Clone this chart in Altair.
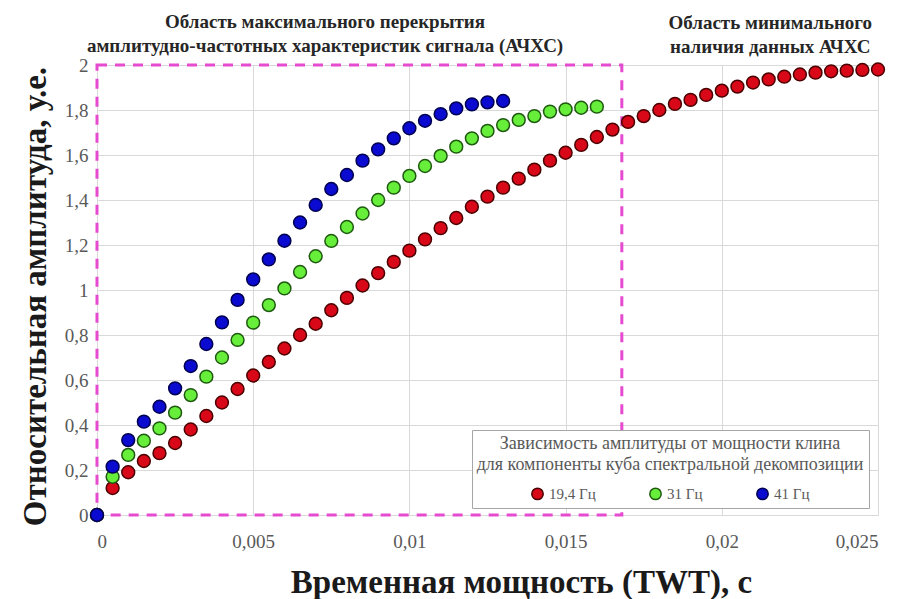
import altair as alt
import pandas as pd

# ---- data ----
twt = [0.0, 0.0005, 0.001, 0.0015, 0.002, 0.0025, 0.003, 0.0035, 0.004, 0.0045,
       0.005, 0.0055, 0.006, 0.0065, 0.007, 0.0075, 0.008, 0.0085, 0.009, 0.0095,
       0.01, 0.0105, 0.011, 0.0115, 0.012, 0.0125, 0.013, 0.0135, 0.014, 0.0145,
       0.015, 0.0155, 0.016, 0.0165, 0.017, 0.0175, 0.018, 0.0185, 0.019, 0.0195,
       0.02, 0.0205, 0.021, 0.0215, 0.022, 0.0225, 0.023, 0.0235, 0.024, 0.0245, 0.025]

amp_19 = [0, 0.12, 0.19, 0.24, 0.275, 0.32, 0.38, 0.44, 0.50, 0.56,
          0.62, 0.68, 0.74, 0.80, 0.85, 0.91, 0.965, 1.02, 1.075, 1.125,
          1.175, 1.225, 1.275, 1.32, 1.37, 1.415, 1.455, 1.495, 1.535, 1.575,
          1.61, 1.645, 1.68, 1.713, 1.747, 1.773, 1.80, 1.827, 1.845, 1.867,
          1.886, 1.904, 1.922, 1.936, 1.948, 1.958, 1.966, 1.972, 1.975, 1.978, 1.98]
amp_31 = [0, 0.17, 0.267, 0.33, 0.385, 0.455, 0.533, 0.615, 0.70, 0.778,
          0.855, 0.933, 1.007, 1.08, 1.15, 1.218, 1.28, 1.34, 1.40, 1.455,
          1.507, 1.551, 1.596, 1.637, 1.674, 1.707, 1.733, 1.756, 1.773, 1.793,
          1.803, 1.81, 1.815]
amp_41 = [0, 0.215, 0.333, 0.415, 0.481, 0.563, 0.662, 0.76, 0.856, 0.956,
          1.047, 1.136, 1.219, 1.30, 1.378, 1.449, 1.511, 1.575, 1.625, 1.674,
          1.719, 1.752, 1.782, 1.807, 1.825, 1.834, 1.84]

series_names = ["19,4 Гц", "31 Гц", "41 Гц"]
fill_colors = ["#d80818", "#66ee3a", "#0a0ad0"]
stroke_colors = ["#4a0000", "#1f5a10", "#000050"]

x_ticks = [0, 0.005, 0.01, 0.015, 0.02, 0.025]
y_ticks = [0, 0.2, 0.4, 0.6, 0.8, 1.0, 1.2, 1.4, 1.6, 1.8, 2.0]

# region of maximum overlap (dashed box)
region_x = [0.0, 0.0168]
region_y = [0.0, 2.0]

annot_text = ["Область максимального перекрытия",
              "амплитудно-частотных характеристик сигнала (АЧХС)",
              "Область минимального", "наличия данных АЧХС"]
annot_x = [0.0073, 0.0073, 0.02155, 0.02155]
annot_y = [2.19, 2.085, 2.185, 2.08]

legend_title = ["Зависимость амплитуды от мощности клина",
                "для компоненты куба спектральной декомпозиции"]

# ---- tables ----
rows = []
for name, vals in zip(series_names, [amp_19, amp_31, amp_41]):
    for t, a in zip(twt, vals):
        rows.append({"twt": t, "amp": a, "series": name})
df = pd.DataFrame(rows)
df["order"] = df["series"].map({n: i for i, n in enumerate(series_names)})

region_df = pd.DataFrame({"x": [region_x[0]], "x2": [region_x[1]],
                          "y": [region_y[0]], "y2": [region_y[1]]})
annot_df = pd.DataFrame({"x": annot_x, "y": annot_y, "text": annot_text})

FONT = "Liberation Serif"
comma = "replace(format(datum.value, ''), '.', ',')"

xscale = alt.Scale(domain=[0, 0.025], nice=False)
yscale = alt.Scale(domain=[0, 2], nice=False)

xaxis = alt.Axis(values=x_ticks, labelExpr=comma, title="Временная мощность (TWT), с",
                 grid=True, domain=False, ticks=False, labelPadding=17,
                 titleX=424, titleY=77, titleBaseline="alphabetic", titleAlign="center")
yaxis = alt.Axis(values=y_ticks, labelExpr=comma, title="Относительная амплитуда, у.е.",
                 grid=True, domain=False, ticks=False, labelPadding=9,
                 titleX=-62, titleY=231, titleBaseline="middle")

base_grid = alt.Chart(df).mark_point(opacity=0).encode(
    x=alt.X("twt:Q", scale=xscale, axis=xaxis),
    y=alt.Y("amp:Q", scale=yscale, axis=yaxis),
)

region = alt.Chart(region_df).mark_rect(
    filled=False, stroke="#e54bd0", strokeWidth=3, strokeDash=[10, 8]
).encode(
    x=alt.X("x:Q", scale=xscale), x2="x2:Q",
    y=alt.Y("y:Q", scale=yscale), y2="y2:Q",
)

points = alt.Chart(df).mark_circle(size=165, opacity=1, strokeWidth=1.5).encode(
    x=alt.X("twt:Q", scale=xscale),
    y=alt.Y("amp:Q", scale=yscale),
    fill=alt.Fill("series:N",
                  scale=alt.Scale(domain=series_names, range=fill_colors),
                  legend=alt.Legend(
                      title=legend_title, orient="none", legendX=375, legendY=365,
                      direction="horizontal", columns=3, columnPadding=50,
                      symbolType="circle", symbolSize=130, symbolStrokeWidth=1.5,
                      titleFont=FONT, titleFontSize=18, titleFontWeight="normal",
                      titleColor="#595959", titleAnchor="middle", titleLineHeight=21,
                      titlePadding=12, titleLimit=500,
                      labelFont=FONT, labelFontSize=15, labelColor="#595959",
                      labelOffset=4,
                      fillColor="white", strokeColor="#a6a6a6", padding=5,
                  )),
    stroke=alt.Stroke("series:N",
                      scale=alt.Scale(domain=series_names, range=stroke_colors)),
    order=alt.Order("order:Q"),
)

annots = alt.Chart(annot_df).mark_text(
    font=FONT, fontSize=19, fontWeight="bold", color="#262626",
    baseline="middle", align="center"
).encode(
    x=alt.X("x:Q", scale=xscale), y=alt.Y("y:Q", scale=yscale), text="text"
)

chart = alt.layer(base_grid, region, points, annots).properties(
    width=781, height=450,
    autosize=alt.AutoSizeParams(type="none"),
    padding={"left": 89, "top": 57, "right": 18, "bottom": 84},
).configure_view(stroke=None).configure_axis(
    gridColor="#d9d9d9", gridWidth=1,
    labelFont=FONT, labelFontSize=19, labelColor="#595959",
    titleFont=FONT, titleFontSize=33, titleFontWeight="bold", titleColor="#1a1a1a",
)

chart.save("out.html", embed_options={"renderer": "svg", "actions": False})
